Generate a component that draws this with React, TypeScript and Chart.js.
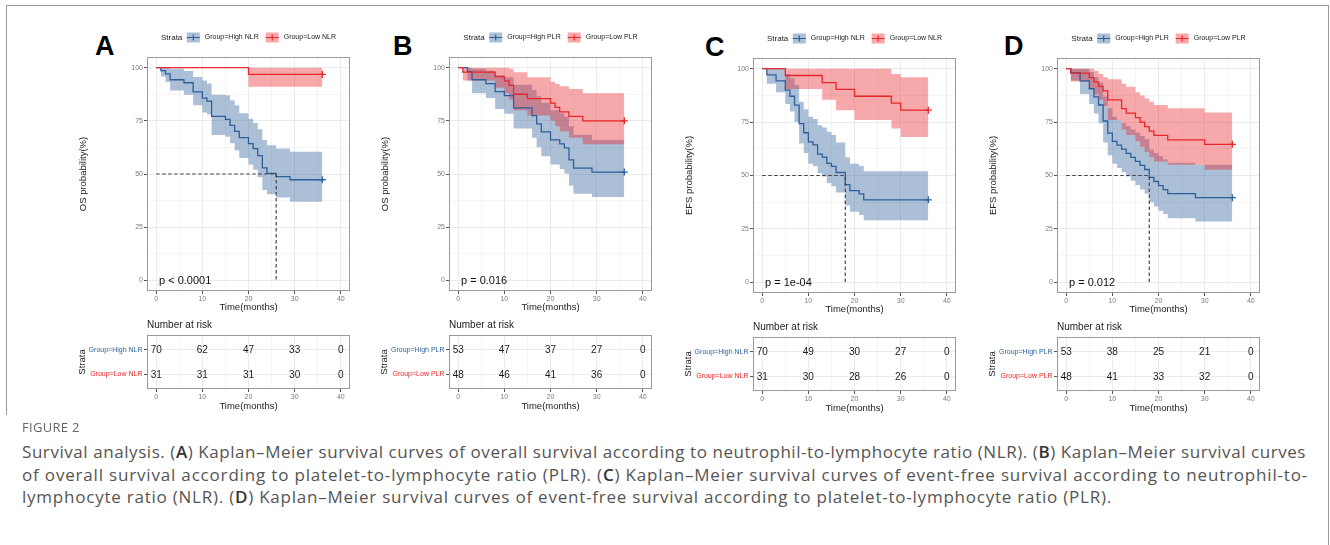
import React, { useEffect, useLayoutEffect, useRef } from "react";
import { Chart, registerables } from "chart.js";
Chart.register(...registerables);

const FONT = '"Liberation Sans", Arial, Helvetica, sans-serif';
const CAP_FONT = '"Open Sans", Lato, sans-serif';

const BLUE = "#2E5F9B";
const RED = "#E8262B";
const BLUE_FILL = "rgba(46,95,155,0.4)";
const RED_FILL = "rgba(232,38,43,0.4)";

// axis ticks
const xMajor = [0, 10, 20, 30, 40];
const xMinor = [5, 15, 25, 35];
const yMajor = [0, 25, 50, 75, 100];
const yMinor = [12.5, 37.5, 62.5, 87.5];
const riskTimes = [0, 10, 20, 30, 40];

// ---------- Panel A: OS by NLR ----------
const aHighT = [0, 1, 2, 3, 6, 8, 10, 11, 12, 15, 16, 17, 18, 20, 21, 22, 23, 24, 26, 29, 36];
const aHighS = [100, 98.6, 97.1, 94.3, 92.9, 88.6, 85.7, 84.3, 77.1, 75.7, 72.9, 70.0, 67.1, 64.3, 61.9, 58.6, 52.9, 50.3, 48.8, 47.3, 47.3];
const aHighUp = [100, 100, 100, 99.5, 98.4, 95.6, 94, 92.5, 87.3, 87, 84.7, 82.3, 78.5, 76, 74, 71, 66, 63.5, 62, 60.5, 60.5];
const aHighLo = [100, 95.8, 93.3, 89.2, 87.3, 82.3, 78.9, 78, 68.3, 67.5, 64.4, 61, 57.5, 54.5, 52, 48.5, 42.5, 40.5, 39, 37, 37];
const aLowT = [0, 20, 36];
const aLowS = [100, 96.8, 96.8];
const aLowUp = [100, 100, 100];
const aLowLo = [100, 91, 91];
const aRiskHigh = [70, 62, 47, 33, 0];
const aRiskLow = [31, 31, 31, 30, 0];

// ---------- Panel B: OS by PLR ----------
const bHighT = [0, 2, 3, 6, 8, 10, 12, 16, 17, 18, 20, 22, 23, 24, 25, 29, 36];
const bHighS = [100, 98.1, 94.3, 92.5, 88.7, 86.8, 81.1, 77.4, 73.6, 69.8, 66.0, 64.2, 62.3, 56.6, 52.8, 50.9, 50.9];
const bHighUp = [100, 100, 99.5, 98.5, 96.5, 95.5, 92, 89.5, 86.5, 83.5, 80, 78.5, 77, 72.5, 68.5, 66, 66];
const bHighLo = [100, 94, 88, 85.7, 80.5, 78.3, 71.4, 67, 62.6, 58.4, 54.5, 52.4, 50.2, 44.5, 40.7, 39.2, 39.2];
const bLowT = [0, 1, 8, 10, 11, 12, 15, 20, 21, 22, 24, 27, 36];
const bLowS = [100, 97.9, 95.8, 93.8, 91.7, 87.5, 85.4, 83.3, 81.3, 79.2, 77.1, 75.0, 75.0];
const bLowUp = [100, 100, 100, 100, 99.5, 97.8, 95.5, 93.4, 92.3, 91.3, 90, 88, 88];
const bLowLo = [100, 94, 90.5, 88, 85, 80, 77.5, 75, 72.5, 70, 67, 64, 64];
const bRiskHigh = [53, 47, 37, 27, 0];
const bRiskLow = [48, 46, 41, 36, 0];

// ---------- Panel C: EFS by NLR ----------
const cHighT = [0, 1, 3, 5, 6, 7, 8, 9, 10, 11, 12, 13, 14, 15, 16, 18, 19, 21, 22, 36];
const cHighS = [100, 97.1, 94.3, 90.0, 87.1, 82.9, 74.3, 70.0, 65.7, 64.3, 60.0, 58.6, 55.7, 54.3, 51.4, 45.7, 42.9, 41.4, 38.6, 38.6];
const cHighUp = [100, 100, 100, 97.5, 95.5, 92.5, 84.5, 81, 77.5, 76.5, 73.5, 72.5, 70.5, 69, 65.5, 58.5, 55.5, 54.5, 52, 52];
const cHighLo = [100, 93, 89, 83.5, 80, 75, 65, 60.5, 55.5, 54.5, 51, 49.5, 46.5, 45, 42, 36, 33, 31.5, 29, 29];
const cLowT = [0, 5, 13, 16, 20, 28, 30, 36];
const cLowS = [100, 96.8, 93.5, 90.3, 87.1, 83.9, 80.6, 80.6];
const cLowUp = [100, 100, 100, 100, 100, 97.5, 96, 96];
const cLowLo = [100, 90.5, 85.5, 80.5, 76, 72, 68, 68];
const cRiskHigh = [70, 49, 30, 27, 0];
const cRiskLow = [31, 30, 28, 26, 0];

// ---------- Panel D: EFS by PLR ----------
const dHighT = [0, 1, 3, 5, 6, 7, 8, 9, 10, 11, 12, 13, 14, 15, 16, 17, 18, 19, 20, 21, 22, 28, 36];
const dHighS = [100, 98.1, 94.3, 90.6, 86.8, 83.0, 75.5, 69.8, 66.0, 64.2, 62.3, 60.4, 58.5, 56.6, 54.7, 52.8, 49.1, 47.2, 45.3, 43.4, 41.5, 39.6, 39.6];
const dHighUp = [100, 100, 100, 98.5, 96, 93.5, 87, 81.5, 77.5, 76, 74.5, 73, 71.5, 70, 68.5, 67, 62, 60.5, 59, 57.5, 56, 55, 55];
const dHighLo = [100, 94.5, 88, 83.5, 79, 74.5, 65.5, 59.5, 55.5, 53.5, 51.5, 49.5, 47.5, 45.5, 43.5, 41.5, 37.5, 35.5, 33.5, 32, 30, 28.5, 28.5];
const dLowT = [0, 1, 5, 6, 7, 8, 9, 12, 13, 15, 16, 17, 18, 19, 22, 30, 36];
const dLowS = [100, 97.9, 95.8, 93.8, 91.7, 89.6, 85.4, 81.3, 79.2, 77.1, 75.0, 72.9, 70.8, 68.8, 66.7, 64.6, 64.6];
const dLowUp = [100, 100, 100, 99, 97.5, 96, 95, 93, 91.5, 89, 87.5, 86, 84.5, 83, 81.5, 79.5, 79.5];
const dLowLo = [100, 94, 90.5, 88, 85.5, 82.5, 76, 71.5, 69, 66, 63.5, 61, 58.5, 56.5, 55, 52.7, 52.7];
const dRiskHigh = [53, 38, 25, 21, 0];
const dRiskLow = [48, 41, 33, 32, 0];

const captionLine1 = ["Survival analysis. (", "A", ") Kaplan–Meier survival curves of overall survival according to neutrophil-to-lymphocyte ratio (NLR). (", "B", ") Kaplan–Meier survival curves"];
const captionLine2 = ["of overall survival according to platelet-to-lymphocyte ratio (PLR). (", "C", ") Kaplan–Meier survival curves of event-free survival according to neutrophil-to-"];
const captionLine3 = ["lymphocyte ratio (NLR). (", "D", ") Kaplan–Meier survival curves of event-free survival according to platelet-to-lymphocyte ratio (PLR)."];

type Series = { t: number[]; s: number[]; up: number[]; lo: number[] };
type PanelCfg = {
  letter: string; letterLeft: number; letterBase: number;
  yTitle: string; groups: string[]; pText: string; median: number | null;
  high: Series; low: Series;
  left: number; top: number; bottom: number; tTop: number;
  riskHigh: number[]; riskLow: number[];
};

const PANEL_W = 203;
const TABLE_H = 54;
const TITLE_SIZE = 9.5;

const panels: PanelCfg[] = [
  {
    letter: "A", letterLeft: 95, letterBase: 56, yTitle: "OS probability(%)",
    groups: ["Group=High NLR", "Group=Low NLR"], pText: "p < 0.0001", median: 26,
    high: { t: aHighT, s: aHighS, up: aHighUp, lo: aHighLo },
    low: { t: aLowT, s: aLowS, up: aLowUp, lo: aLowLo },
    left: 147, top: 57, bottom: 291, tTop: 335, riskHigh: aRiskHigh, riskLow: aRiskLow,
  },
  {
    letter: "B", letterLeft: 393, letterBase: 55.5, yTitle: "OS probability(%)",
    groups: ["Group=High PLR", "Group=Low PLR"], pText: "p = 0.016", median: null,
    high: { t: bHighT, s: bHighS, up: bHighUp, lo: bHighLo },
    low: { t: bLowT, s: bLowS, up: bLowUp, lo: bLowLo },
    left: 449, top: 57, bottom: 291, tTop: 335, riskHigh: bRiskHigh, riskLow: bRiskLow,
  },
  {
    letter: "C", letterLeft: 705, letterBase: 57, yTitle: "EFS probability(%)",
    groups: ["Group=High NLR", "Group=Low NLR"], pText: "p = 1e-04", median: 18,
    high: { t: cHighT, s: cHighS, up: cHighUp, lo: cHighLo },
    low: { t: cLowT, s: cLowS, up: cLowUp, lo: cLowLo },
    left: 753, top: 58, bottom: 293, tTop: 337, riskHigh: cRiskHigh, riskLow: cRiskLow,
  },
  {
    letter: "D", letterLeft: 1004, letterBase: 56, yTitle: "EFS probability(%)",
    groups: ["Group=High PLR", "Group=Low PLR"], pText: "p = 0.012", median: 18,
    high: { t: dHighT, s: dHighS, up: dHighUp, lo: dHighLo },
    low: { t: dLowT, s: dLowS, up: dLowUp, lo: dLowLo },
    left: 1057, top: 58, bottom: 293, tTop: 337, riskHigh: dRiskHigh, riskLow: dRiskLow,
  },
];

function stepPoints(t: number[], v: number[]) {
  const pts = [{ x: t[0], y: v[0] }];
  for (let i = 1; i < t.length; i++) {
    pts.push({ x: t[i], y: v[i - 1] });
    pts.push({ x: t[i], y: v[i] });
  }
  return pts;
}

const allX = [...xMajor, ...xMinor].sort((a, b) => a - b);
const allY = [...yMajor, ...yMinor].sort((a, b) => a - b);

function xScale(titlePadBottom: number) {
  return {
    type: "linear", min: -2, max: 42,
    afterBuildTicks: (s: any) => { s.ticks = allX.map((v) => ({ value: v })); },
    afterFit: (s: any) => { s.height = 26; },
    ticks: {
      autoSkip: false, maxRotation: 0, minRotation: 0, padding: 1, color: "#7a7a7a",
      font: { family: FONT, size: 7 },
      callback: (v: any) => (xMajor.includes(v) ? String(v) : ""),
    },
    grid: {
      color: "#ebebeb",
      lineWidth: (c: any) => (c.tick && xMajor.includes(c.tick.value) ? 1 : 0.5),
      tickLength: 3, tickWidth: 1,
      tickColor: (c: any) => (c.tick && xMajor.includes(c.tick.value) ? "#555" : "rgba(0,0,0,0)"),
    },
    border: { display: false },
    title: { display: true, text: "Time(months)", color: "#222", font: { family: FONT, size: TITLE_SIZE }, padding: { top: 0, bottom: titlePadBottom } },
  };
}

function borderRect(chart: any) {
  const { ctx, chartArea: a } = chart;
  ctx.save();
  ctx.strokeStyle = "#9a9a9a";
  ctx.lineWidth = 1;
  ctx.strokeRect(Math.round(a.left) + 0.5, Math.round(a.top) + 0.5, Math.round(a.right - a.left) - 1, Math.round(a.bottom - a.top) - 1);
  ctx.restore();
}

function KmPlot({ cfg }: { cfg: PanelCfg }) {
  const ref = useRef<HTMLCanvasElement>(null);
  const W = 72 + PANEL_W + 3;
  const H = 30 + (cfg.bottom - cfg.top) + 26;
  useEffect(() => {
    const none = "rgba(0,0,0,0)";
    const datasets: any[] = [
      { data: stepPoints(cfg.high.t, cfg.high.up), borderColor: none, borderWidth: 0, pointRadius: 0, fill: false, order: 10 },
      { data: stepPoints(cfg.high.t, cfg.high.lo), borderColor: none, borderWidth: 0, pointRadius: 0, fill: { target: "-1", above: BLUE_FILL, below: BLUE_FILL }, order: 10 },
      { data: stepPoints(cfg.low.t, cfg.low.up), borderColor: none, borderWidth: 0, pointRadius: 0, fill: false, order: 9 },
      { data: stepPoints(cfg.low.t, cfg.low.lo), borderColor: none, borderWidth: 0, pointRadius: 0, fill: { target: "-1", above: RED_FILL, below: RED_FILL }, order: 9 },
      { data: stepPoints(cfg.high.t, cfg.high.s), borderColor: BLUE, borderWidth: 1.3, pointRadius: 0, fill: false, order: 5 },
      { data: stepPoints(cfg.low.t, cfg.low.s), borderColor: RED, borderWidth: 1.3, pointRadius: 0, fill: false, order: 4 },
      { data: [{ x: cfg.high.t[cfg.high.t.length - 1], y: cfg.high.s[cfg.high.s.length - 1] }], showLine: false, pointStyle: "cross", pointRadius: 3.5, pointBorderWidth: 1.3, borderColor: BLUE, pointBorderColor: BLUE, order: 3 },
      { data: [{ x: cfg.low.t[cfg.low.t.length - 1], y: cfg.low.s[cfg.low.s.length - 1] }], showLine: false, pointStyle: "cross", pointRadius: 3.5, pointBorderWidth: 1.3, borderColor: RED, pointBorderColor: RED, order: 2 },
    ];
    if (cfg.median !== null) {
      datasets.push({
        data: [{ x: 0, y: 50 }, { x: cfg.median, y: 50 }, { x: cfg.median, y: 0 }],
        borderColor: "#444", borderWidth: 1.2, borderDash: [3.5, 2.5], pointRadius: 0, fill: false, order: 1,
      });
    }
    const plugin = {
      id: "km" + cfg.letter,
      afterDatasetsDraw(chart: any) {
        const { ctx, scales } = chart;
        borderRect(chart);
        ctx.save();
        ctx.font = `11px ${FONT}`;
        ctx.fillStyle = "#111";
        ctx.textAlign = "left";
        ctx.textBaseline = "middle";
        ctx.fillText(cfg.pText, scales.x.getPixelForValue(0) + 2.8, scales.y.getPixelForValue(0) + 1);
        ctx.restore();
      },
      afterDraw(chart: any) {
        const { ctx, chartArea: a } = chart;
        const cy = a.top - 19.5;
        ctx.save();
        ctx.textBaseline = "middle";
        ctx.textAlign = "left";
        ctx.font = `8px ${FONT}`;
        const sw = ctx.measureText("Strata").width;
        ctx.font = `7px ${FONT}`;
        const w1 = ctx.measureText(cfg.groups[0]).width;
        const w2 = ctx.measureText(cfg.groups[1]).width;
        const kw = 13, kh = 10;
        const total = sw + 4.5 + kw + 5 + w1 + 7 + kw + 5 + w2;
        let x = (a.left + a.right) / 2 - total / 2;
        const key = (kx: number, line: string, fill: string) => {
          ctx.fillStyle = fill;
          ctx.fillRect(kx, cy - kh / 2, kw, kh);
          ctx.strokeStyle = line;
          ctx.lineWidth = 1.2;
          ctx.beginPath();
          ctx.moveTo(kx, cy); ctx.lineTo(kx + kw, cy);
          ctx.moveTo(kx + kw / 2, cy - 3); ctx.lineTo(kx + kw / 2, cy + 3);
          ctx.stroke();
        };
        ctx.fillStyle = "#222";
        ctx.font = `8px ${FONT}`;
        ctx.fillText("Strata", x, cy);
        x += sw + 4.5;
        key(x, BLUE, BLUE_FILL);
        x += kw + 5;
        ctx.fillStyle = "#222";
        ctx.font = `7px ${FONT}`;
        ctx.fillText(cfg.groups[0], x, cy);
        x += w1 + 7;
        key(x, RED, RED_FILL);
        x += kw + 5;
        ctx.fillStyle = "#222";
        ctx.font = `7px ${FONT}`;
        ctx.fillText(cfg.groups[1], x, cy);
        ctx.restore();
      },
    };
    const chart = new Chart(ref.current as HTMLCanvasElement, {
      type: "line",
      data: { datasets },
      options: {
        animation: false, responsive: false, maintainAspectRatio: false, devicePixelRatio: 1,
        layout: { padding: { top: 30, right: 3, left: 0, bottom: 0 }, autoPadding: false },
        plugins: { legend: { display: false }, tooltip: { enabled: false }, title: { display: false } },
        elements: { line: { tension: 0 } },
        scales: {
          x: xScale(4.3),
          y: {
            type: "linear", min: -5, max: 105,
            afterBuildTicks: (s: any) => { s.ticks = allY.map((v) => ({ value: v })); },
            afterFit: (s: any) => { s.width = 72; },
            ticks: {
              autoSkip: false, padding: 1, color: "#7a7a7a", font: { family: FONT, size: 7 },
              callback: (v: any) => (yMajor.includes(v) ? String(v) : ""),
            },
            grid: {
              color: "#ebebeb",
              lineWidth: (c: any) => (c.tick && yMajor.includes(c.tick.value) ? 1 : 0.5),
              tickLength: 3, tickWidth: 1,
              tickColor: (c: any) => (c.tick && yMajor.includes(c.tick.value) ? "#555" : "rgba(0,0,0,0)"),
            },
            border: { display: false },
            title: { display: true, text: cfg.yTitle, color: "#222", font: { family: FONT, size: TITLE_SIZE }, padding: { top: 2.8, bottom: 0 } },
          },
        } as any,
      } as any,
      plugins: [plugin],
    });
    return () => chart.destroy();
  }, []);
  return (
    <canvas ref={ref} width={W} height={H}
      style={{ position: "absolute", left: cfg.left - 72, top: cfg.top - 30, width: W, height: H }} />
  );
}

function RiskTable({ cfg }: { cfg: PanelCfg }) {
  const ref = useRef<HTMLCanvasElement>(null);
  const W = 72 + PANEL_W + 3;
  const H = 22 + TABLE_H + 26;
  useEffect(() => {
    const datasets: any[] = [
      { data: riskTimes.map((t) => ({ x: t, y: 1 })), counts: cfg.riskHigh, showLine: false, pointRadius: 0 },
      { data: riskTimes.map((t) => ({ x: t, y: 2 })), counts: cfg.riskLow, showLine: false, pointRadius: 0 },
    ];
    const plugin = {
      id: "risk" + cfg.letter,
      afterDatasetsDraw(chart: any) {
        const { ctx } = chart;
        borderRect(chart);
        ctx.save();
        ctx.font = `10px ${FONT}`;
        ctx.fillStyle = "#1a1a1a";
        ctx.textAlign = "center";
        ctx.textBaseline = "middle";
        chart.data.datasets.forEach((ds: any, di: number) => {
          const meta = chart.getDatasetMeta(di);
          meta.data.forEach((el: any, i: number) => {
            ctx.fillText(String(ds.counts[i]), el.x, el.y + 0.5);
          });
        });
        ctx.restore();
      },
    };
    const chart = new Chart(ref.current as HTMLCanvasElement, {
      type: "line",
      data: { datasets },
      options: {
        animation: false, responsive: false, maintainAspectRatio: false, devicePixelRatio: 1,
        layout: { padding: { top: 0, right: 3, left: 0, bottom: 0 }, autoPadding: false },
        plugins: {
          legend: { display: false }, tooltip: { enabled: false },
          title: {
            display: true, text: "Number at risk", align: "start", fullSize: false, color: "#222",
            font: { family: FONT, size: 10, weight: "normal" }, padding: { top: 6.7, bottom: 3.3 },
          },
        },
        scales: {
          x: xScale(2.6),
          y: {
            type: "linear", min: 0.4, max: 2.6, reverse: true,
            afterBuildTicks: (s: any) => { s.ticks = [{ value: 1 }, { value: 2 }]; },
            afterFit: (s: any) => { s.width = 72; },
            ticks: {
              autoSkip: false, padding: 1.5, font: { family: FONT, size: 7 },
              color: (c: any) => (c.tick && c.tick.value === 1 ? BLUE : RED),
              callback: (v: any) => (v === 1 ? cfg.groups[0] : cfg.groups[1]),
            },
            grid: { color: "#ebebeb", lineWidth: 1, tickLength: 3, tickWidth: 1, tickColor: "#555" },
            border: { display: false },
            title: { display: true, text: "Strata", color: "#222", font: { family: FONT, size: TITLE_SIZE }, padding: { top: 1.8, bottom: 0 } },
          },
        } as any,
      } as any,
      plugins: [plugin],
    });
    return () => chart.destroy();
  }, []);
  return (
    <canvas ref={ref} width={W} height={H}
      style={{ position: "absolute", left: cfg.left - 72, top: cfg.tTop - 22, width: W, height: H }} />
  );
}

// caption line, letter-spaced at runtime so its width matches the target width
function CapLine({ parts, top, target }: { parts: string[]; top: number; target: number }) {
  const ref = useRef<HTMLSpanElement>(null);
  useLayoutEffect(() => {
    const el = ref.current;
    if (!el) return;
    el.style.letterSpacing = "0px";
    const natural = el.getBoundingClientRect().width;
    const n = parts.join("").length;
    const ls = (target - natural) / n;
    el.style.letterSpacing = ls.toFixed(3) + "px";
  }, []);
  return (
    <span ref={ref} style={{
      position: "absolute", left: 22, top, display: "inline-block",
      fontFamily: CAP_FONT, fontSize: 17, lineHeight: "22px", color: "#555",
      whiteSpace: "nowrap",
    }}>
      {parts.map((p, i) => (i % 2 === 1 ? <b key={i} style={{ color: "#333", fontWeight: 600 }}>{p}</b> : <span key={i}>{p}</span>))}
    </span>
  );
}

export default function App() {
  return (
    <div style={{ position: "absolute", left: 0, top: 0, width: 1330, height: 545, background: "#fff", overflow: "hidden" }}>
      <div style={{ position: "absolute", left: 6, top: 5, width: 1323, height: 1, background: "#999" }} />
      <div style={{ position: "absolute", left: 6, top: 5, width: 1, height: 410, background: "#999" }} />
      <div style={{ position: "absolute", left: 1328, top: 5, width: 1, height: 540, background: "#999" }} />
      {panels.map((p) => (
        <div key={p.letter}
          style={{ position: "absolute", left: p.letterLeft, top: p.letterBase - 0.8465 * 27, fontFamily: FONT, fontWeight: "bold", fontSize: 27, lineHeight: "27px", color: "#000" }}>
          {p.letter}
        </div>
      ))}
      {panels.map((p) => <KmPlot key={"km" + p.letter} cfg={p} />)}
      {panels.map((p) => <RiskTable key={"rt" + p.letter} cfg={p} />)}
      <div style={{ position: "absolute", left: 22, top: 416, fontFamily: CAP_FONT, fontSize: 13, lineHeight: "22px", color: "#666", letterSpacing: 0.3 }}>FIGURE 2</div>
      <CapLine parts={captionLine1} top={441} target={1284} />
      <CapLine parts={captionLine2} top={464} target={1286} />
      <CapLine parts={captionLine3} top={486} target={1090} />
    </div>
  );
}
